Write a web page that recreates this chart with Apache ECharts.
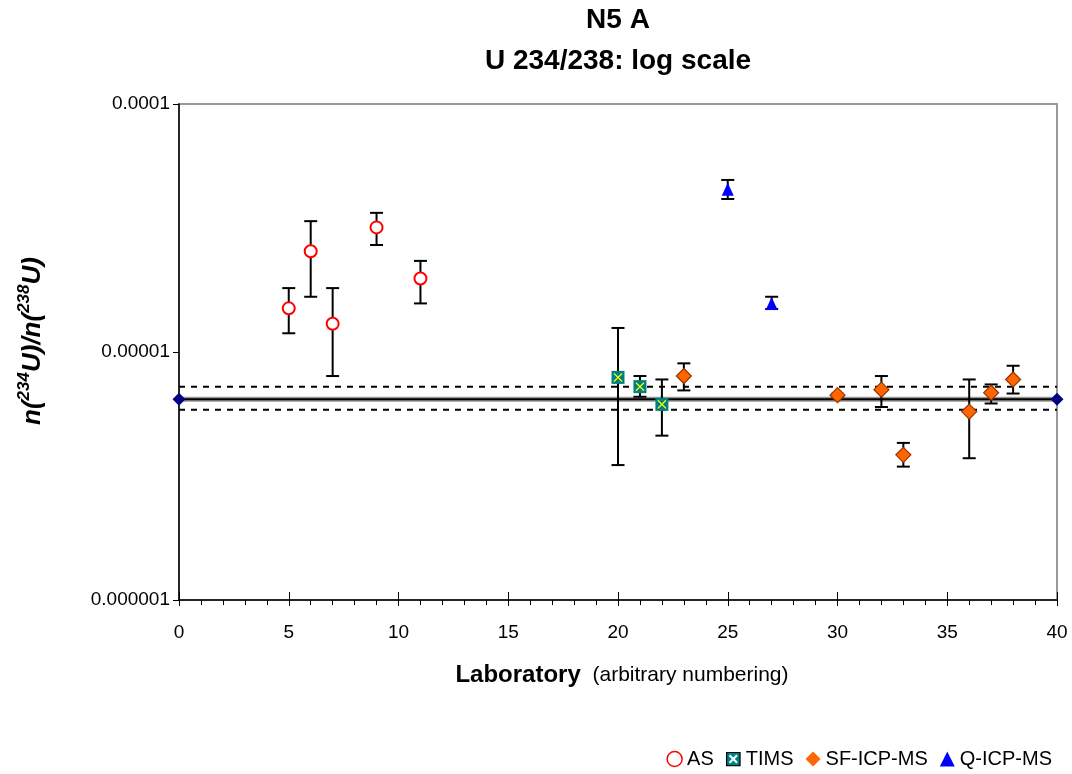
<!DOCTYPE html>
<html>
<head>
<meta charset="utf-8">
<script src="https://cdn.jsdelivr.net/npm/echarts@6/dist/echarts.min.js"></script>
<style>html,body{margin:0;padding:0;background:#fff}#c{width:1072px;height:774px}</style>
</head>
<body>
<div id="c"></div>
<script>
// ---- data ----
var asX = [5, 6, 7, 9, 11];
var asY = [1.50e-5, 2.55e-5, 1.30e-5, 3.18e-5, 1.98e-5];
var asLow = [1.19e-5, 1.67e-5, 8.0e-6, 2.70e-5, 1.57e-5];
var asHigh = [1.81e-5, 3.37e-5, 1.81e-5, 3.64e-5, 2.33e-5];

var timsX = [20, 21, 22];
var timsY = [7.9e-6, 7.25e-6, 6.15e-6];
var timsLow = [3.5e-6, 6.6e-6, 4.6e-6];
var timsHigh = [1.25e-5, 8.0e-6, 7.75e-6];

var sfX = [23, 30, 32, 33, 36, 37, 38];
var sfY = [8.0e-6, 6.7e-6, 7.05e-6, 3.85e-6, 5.75e-6, 6.85e-6, 7.75e-6];
var sfLow = [7.0e-6, 6.62e-6, 6.0e-6, 3.45e-6, 3.73e-6, 6.2e-6, 6.8e-6];
var sfHigh = [9.0e-6, 6.78e-6, 8.0e-6, 4.3e-6, 7.75e-6, 7.4e-6, 8.8e-6];

var qX = [25, 27];
var qY = [4.53e-5, 1.57e-5];
var qLow = [4.14e-5, 1.49e-5];
var qHigh = [4.94e-5, 1.67e-5];

var refX = [0, 40];
var meanVal = 6.45e-6;
var upperVal = 7.25e-6;
var lowerVal = 5.85e-6;

var yTickValues = [1e-6, 1e-5, 1e-4];
var yTickLabels = ['0.000001', '0.00001', '0.0001'];

var FONT = '"Liberation Sans", Arial, sans-serif';

function pts(xs, ys) { return xs.map(function (x, i) { return [x, ys[i]]; }); }
function bars(xs, lo, hi) { return xs.map(function (x, i) { return [x, lo[i], hi[i]]; }); }
var errData = [].concat(bars(asX, asLow, asHigh), bars(timsX, timsLow, timsHigh),
  bars(sfX, sfLow, sfHigh), bars(qX, qLow, qHigh));

var timsIcon = 'image://data:image/svg+xml;charset=utf-8,' + encodeURIComponent(
  '<svg xmlns="http://www.w3.org/2000/svg" width="16" height="16">' +
  '<rect x="0.75" y="0.75" width="14.5" height="14.5" fill="#008080" stroke="#000" stroke-width="1.5"/>' +
  '<path d="M4 4L12 12M12 4L4 12" stroke="#e8ffff" stroke-width="2.4"/></svg>');

var xShape = 'path://M0,1L1,0L5,4L9,0L10,1L6,5L10,9L9,10L5,6L1,10L0,9L4,5Z';

var chart = echarts.init(document.getElementById('c'));
var option = {
  animation: false,
  backgroundColor: '#fff',
  textStyle: { fontFamily: FONT },
  grid: { left: 179, right: 15, top: 104, bottom: 174, show: true, borderColor: '#999', borderWidth: 2, backgroundColor: 'transparent' },
  xAxis: [{
    type: 'value', min: 0, max: 40, interval: 5,
    axisLine: { onZero: false, lineStyle: { color: '#000', width: 1.5 } },
    axisTick: { show: true, length: 6, lineStyle: { color: '#000', width: 1 } },
    minorTick: { show: true, splitNumber: 5, length: 5, lineStyle: { color: '#000', width: 1 } },
    splitLine: { show: false },
    axisLabel: { color: '#000', fontSize: 19, fontFamily: FONT, margin: 23 }
  }, {
    type: 'value', min: 0, max: 40, interval: 5, position: 'bottom',
    axisLine: { show: false },
    axisTick: { show: true, inside: true, length: 8, lineStyle: { color: '#000', width: 1 } },
    splitLine: { show: false },
    axisLabel: { show: false }
  }],
  yAxis: {
    type: 'log', logBase: 10, min: 1e-6, max: 1e-4,
    axisLine: { onZero: false, lineStyle: { color: '#000', width: 1.5 } },
    axisTick: { show: true, length: 6, lineStyle: { color: '#000', width: 1 } },
    minorTick: { show: false },
    splitLine: { show: false },
    axisLabel: {
      color: '#000', fontSize: 19, fontFamily: FONT, margin: 9,
      formatter: function (v) {
        for (var i = 0; i < yTickValues.length; i++) {
          if (Math.abs(Math.log10(v) - Math.log10(yTickValues[i])) < 1e-6) return yTickLabels[i];
        }
        return '';
      }
    }
  },
  legend: {
    right: 15, bottom: 0, itemWidth: 15, itemHeight: 15, itemGap: 12,
    textStyle: { fontSize: 20, color: '#000', fontFamily: FONT },
    data: [
      { name: 'AS', icon: 'circle', itemStyle: { color: '#fff', borderColor: '#f00', borderWidth: 1.5 } },
      { name: 'TIMS', icon: timsIcon },
      { name: 'SF-ICP-MS', icon: 'diamond', itemStyle: { color: '#ff6600', borderWidth: 0 } },
      { name: 'Q-ICP-MS', icon: 'triangle', itemStyle: { color: '#0000ff', borderWidth: 0 } }
    ]
  },
  graphic: [
    { type: 'text', x: 618, y: 20, style: { text: 'N5 A', font: 'bold 28px ' + FONT, fill: '#000', align: 'center', verticalAlign: 'middle' } },
    { type: 'text', x: 618, y: 61, style: { text: 'U 234/238: log scale', font: 'bold 28px ' + FONT, fill: '#000', align: 'center', verticalAlign: 'middle' } },
    { type: 'text', x: 622, y: 675, style: {
        text: '{b|Laboratory}{n|  (arbitrary numbering)}', align: 'center', verticalAlign: 'middle',
        rich: { b: { font: 'bold 24px ' + FONT, fill: '#000', lineHeight: 30 }, n: { font: '21px ' + FONT, fill: '#000', lineHeight: 30 } }
      } },
    { type: 'text', x: 31, y: 341, rotation: Math.PI / 2, style: {
        text: '{a|n(}{s|234}{a|U)/n(}{s|238}{a|U)}', align: 'center', verticalAlign: 'middle',
        rich: {
          a: { font: 'italic bold 26px ' + FONT, fill: '#000', lineHeight: 30, verticalAlign: 'bottom' },
          s: { font: 'italic bold 17px ' + FONT, fill: '#000', lineHeight: 30, verticalAlign: 'top' }
        }
      } }
  ],
  series: [
    { name: 'meanHalo', type: 'line', data: pts(refX, [meanVal, meanVal]), symbol: 'none', silent: true,
      lineStyle: { color: '#999', width: 5 }, z: 2 },
    { name: 'mean', type: 'line', data: pts(refX, [meanVal, meanVal]), symbol: 'diamond', symbolSize: 13,
      itemStyle: { color: '#000080' }, lineStyle: { color: '#000', width: 2 }, z: 3 },
    { name: 'upper', type: 'line', data: pts(refX, [upperVal, upperVal]), symbol: 'none',
      lineStyle: { color: '#000', width: 2, type: [6, 6] }, z: 3 },
    { name: 'lower', type: 'line', data: pts(refX, [lowerVal, lowerVal]), symbol: 'none',
      lineStyle: { color: '#000', width: 2, type: [6, 6] }, z: 3 },
    { name: 'err', type: 'custom', data: errData, encode: { x: 0, y: [1, 2] }, z: 4,
      renderItem: function (params, api) {
        var x = api.value(0);
        var p1 = api.coord([x, api.value(1)]);
        var p2 = api.coord([x, api.value(2)]);
        var hw = 6.5;
        var st = { stroke: '#000', lineWidth: 2 };
        return { type: 'group', children: [
          { type: 'line', shape: { x1: p1[0], y1: p1[1], x2: p2[0], y2: p2[1] }, style: st },
          { type: 'line', shape: { x1: p1[0] - hw, y1: p1[1], x2: p1[0] + hw, y2: p1[1] }, style: st },
          { type: 'line', shape: { x1: p2[0] - hw, y1: p2[1], x2: p2[0] + hw, y2: p2[1] }, style: st }
        ] };
      } },
    { name: 'AS', type: 'scatter', data: pts(asX, asY), symbol: 'circle', symbolSize: 12, z: 5,
      itemStyle: { color: '#fff', borderColor: '#ff0000', borderWidth: 2, opacity: 1 } },
    { name: 'TIMS', type: 'scatter', data: pts(timsX, timsY), symbol: 'rect', symbolSize: 13, z: 5,
      itemStyle: { color: '#008080', opacity: 1 } },
    { name: 'TIMSx', type: 'scatter', data: pts(timsX, timsY), symbol: xShape, symbolSize: 9, z: 6,
      itemStyle: { color: '#ffff00', opacity: 1 } },
    { name: 'SF-ICP-MS', type: 'scatter', data: pts(sfX, sfY), symbol: 'diamond', symbolSize: 15, z: 5,
      itemStyle: { color: '#ff6600', borderColor: '#993300', borderWidth: 1.2, opacity: 1 } },
    { name: 'Q-ICP-MS', type: 'scatter', data: pts(qX, qY), symbol: 'triangle', symbolSize: [12, 13], z: 5,
      itemStyle: { color: '#0000ff', opacity: 1 } }
  ]
};
chart.setOption(option);
</script>
</body>
</html>
